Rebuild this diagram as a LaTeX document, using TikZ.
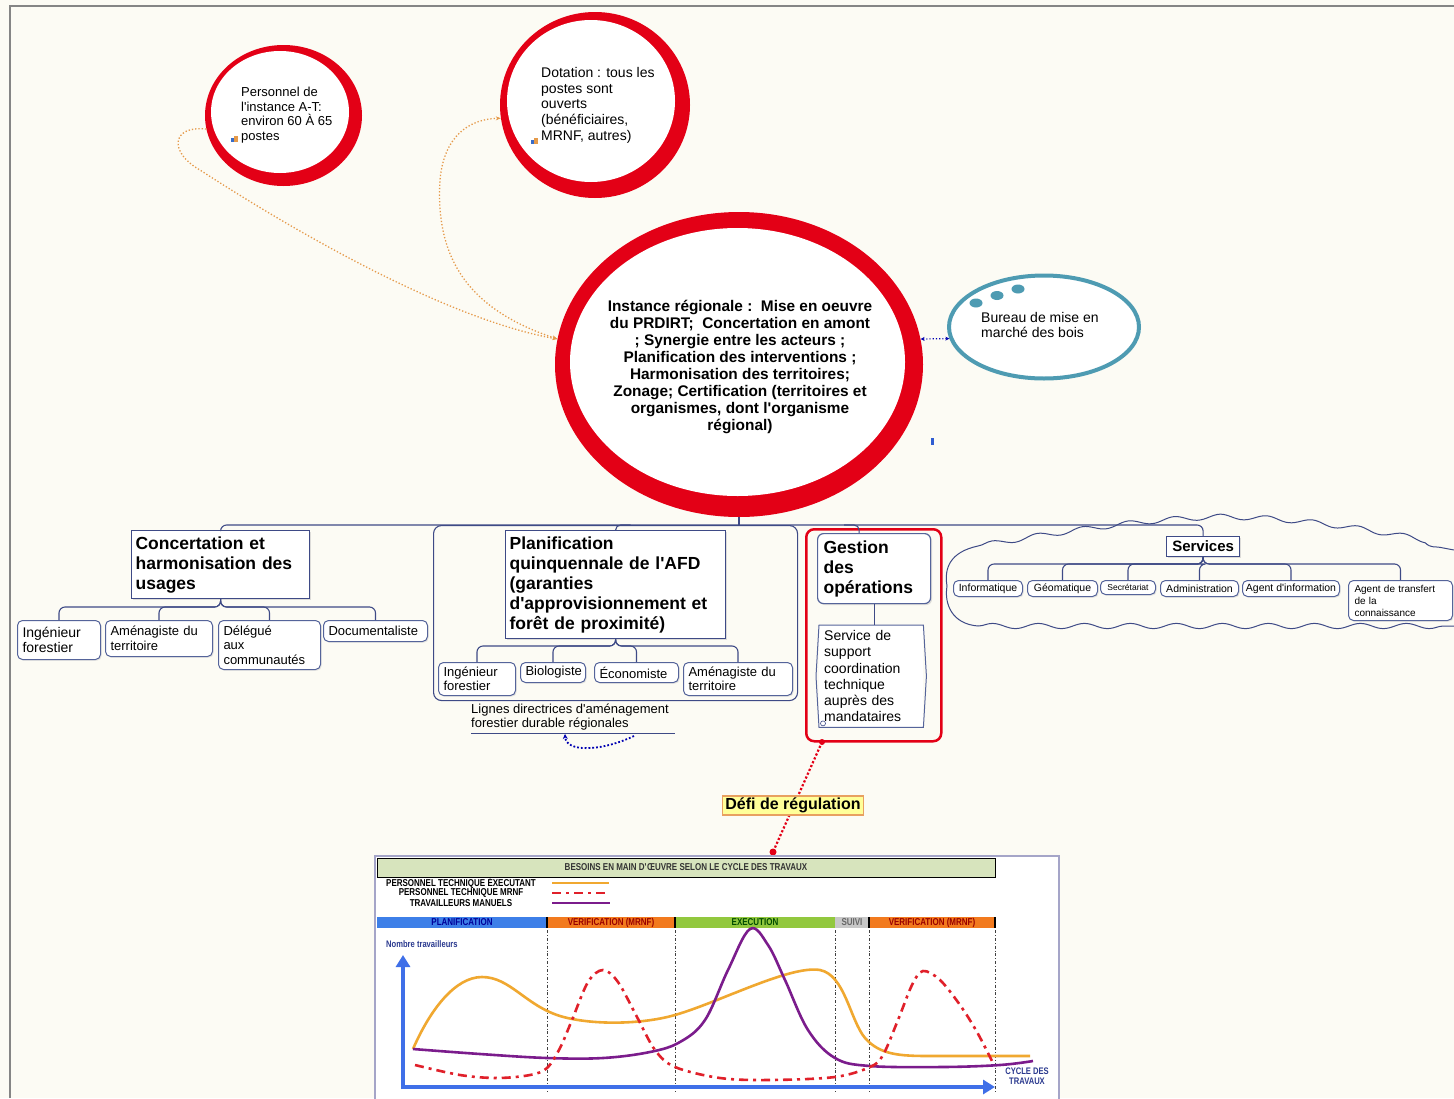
\documentclass[tikz,border=0pt]{standalone}
\usepackage{fontspec}
\setmainfont{Liberation Sans}
\newfontfamily\narrowfont[FakeStretch=0.8]{Liberation Sans}
\usetikzlibrary{shapes.geometric,arrows.meta,decorations.pathmorphing,shadows,calc}

\definecolor{cream}{HTML}{FCFBF4}
\definecolor{framegray}{HTML}{858585}
\definecolor{ringred}{HTML}{E30016}
\definecolor{navy}{HTML}{3E4A86}
\definecolor{boxblue}{HTML}{55649A}
\definecolor{teal}{HTML}{4E9BB2}
\definecolor{dotorange}{HTML}{E59A4A}
\definecolor{notebg}{HTML}{FFFF99}
\definecolor{noteline}{HTML}{E8A060}
\definecolor{chartframe}{HTML}{A5A5C8}
\definecolor{titlegreen}{HTML}{D7E4BD}
\definecolor{phblue}{HTML}{3D7FE8}
\definecolor{phorange}{HTML}{F27A1E}
\definecolor{phgreen}{HTML}{92C83E}
\definecolor{phgray}{HTML}{C8C8C8}
\definecolor{axisblue}{HTML}{3F6FE8}
\definecolor{curveorange}{HTML}{F0A830}
\definecolor{curvepurple}{HTML}{7B1C8C}
\definecolor{curvered}{HTML}{E0202A}
\definecolor{labelnavy}{HTML}{2B3A8F}

\newcommand{\chfont}{\narrowfont\bfseries\fontsize{10}{11}\selectfont}
\newcommand{\ap}{\textquotesingle}

\begin{document}
\begin{tikzpicture}[x=1pt,y=-1pt,
  ln/.style={draw=navy, line width=1.1pt},
  head/.style={draw=navy, line width=1.2pt, fill=white, align=left,
    inner xsep=4pt, inner ysep=2pt, anchor=north west,
    font=\bfseries\fontsize{17.5}{20}\selectfont,
    drop shadow={shadow xshift=1.5pt, shadow yshift=-1.5pt, fill=black!25}},
  kid/.style={draw=boxblue, line width=1pt, fill=white, rounded corners=5pt,
    align=left, inner xsep=5pt, inner ysep=2pt, anchor=north west,
    font=\fontsize{13}{14.5}\selectfont,
    drop shadow={shadow xshift=1.2pt, shadow yshift=-1.2pt, fill=black!20}},
  skid/.style={kid, font=\fontsize{10.5}{12}\selectfont, inner xsep=2pt, inner ysep=1pt},
  ring/.style={ellipse, fill=ringred, draw=none, inner sep=0pt},
  orangelink/.style={draw=dotorange, dotted, line width=1.3pt,
    arrows={-Stealth[length=5pt,width=4pt]}},
  legline/.style={line width=2.6pt},
  wavy/.style={draw=navy, line width=1pt, decorate,
    decoration={snake, segment length=46pt, amplitude=2.6pt}},
]
\useasboundingbox (0,0) rectangle (1454,1098);
\fill[cream] (0,0) rectangle (1454,1098);
\draw[framegray, line width=1.2pt] (10,1098) -- (10,6) -- (1454,6);

% ---------- top circles ----------
\node[ring, minimum width=157pt, minimum height=141pt] (pers) at (283.5,115.5) {};
\fill[white] (280,112) ellipse [x radius=69pt, y radius=61pt];
\node[align=left, anchor=north west, inner sep=0pt, font=\fontsize{13}{14.5}\selectfont]
  (persT) at (241,87) {Personnel de\\l\ap instance A-T:\\environ 60 À 65\\postes};
\fill[teal!70!blue] (231,138) rectangle (234,142);
\fill[dotorange] (234,136) rectangle (238,142);

\node[ring, minimum width=190pt, minimum height=186pt] (dot) at (595,105) {};
\fill[white] (591,101) ellipse [x radius=84pt, y radius=81pt];
\node[align=left, anchor=north west, inner sep=0pt, font=\fontsize{14}{15.7}\selectfont]
  (dotT) at (541,67) {Dotation : tous les\\postes sont\\ouverts\\(bénéficiaires,\\MRNF, autres)};
\fill[teal!70!blue] (531,140) rectangle (534,144);
\fill[dotorange] (534,138) rectangle (538,144);

% ---------- central instance ----------
\node[ring, minimum width=368pt, minimum height=305pt] (inst) at (739,364.5) {};
\fill[white] (737.5,362) ellipse [x radius=167.5pt, y radius=134pt];
\node[align=center, inner sep=0pt, font=\bfseries\fontsize{15.4}{17.1}\selectfont]
  (instT) at (740,367) {Instance régionale :\ \ Mise en oeuvre\\du PRDIRT;\ \ Concertation en amont\\; Synergie entre les acteurs ;\\Planification des interventions ;\\Harmonisation des territoires;\\Zonage; Certification (territoires et\\organismes, dont l\ap organisme\\régional)};

% ---------- market office bubble ----------
\node[ellipse, draw=teal, line width=4pt, fill=white, minimum width=190pt, minimum height=103pt, inner sep=0pt] (bur) at (1044,327) {};
\fill[teal] (976,303) ellipse [x radius=6.5pt, y radius=4.5pt];
\fill[teal] (997,295.5) ellipse [x radius=6.5pt, y radius=4.5pt];
\fill[teal] (1018,289) ellipse [x radius=6.5pt, y radius=4.5pt];
\node[align=left, anchor=north west, inner sep=0pt, font=\fontsize{14}{15.5}\selectfont]
  (burT) at (981,312) {Bureau de mise en\\marché des bois};
\draw[blue!70!black, dotted, line width=1.2pt, arrows={Stealth[length=4pt,width=4pt]-Stealth[length=4pt,width=4pt]}]
  (inst.8) -- (bur.187);
\fill[teal!60!blue] (931,438) rectangle (933.5,445);

% ---------- dotted links to the top circles ----------
\draw[orangelink] (pers.190) .. controls (172,125) and (168,152) .. (200,170)
  .. controls (300,235) and (450,320) .. (inst.172);
\draw[orangelink, arrows={Stealth[length=5pt,width=4pt]-Stealth[length=5pt,width=4pt]}]
  (inst.172) .. controls (470,310) and (435,260) .. (440,180)
  .. controls (444,135) and (470,119) .. (dot.188);

% ---------- services cloud ----------
\coordinate (cl1) at (978,546);
\coordinate (cl2) at (978,626);
\draw[wavy] (cl2) -- (1454,626);
\draw[wavy] (cl1) .. controls (1030,537) and (1120,522) .. (1200,519)
  .. controls (1300,518) and (1400,540) .. (1454,550);
\draw[navy, line width=1pt] (cl1) .. controls (950,552) and (944,568) .. (947,586)
  .. controls (944,604) and (952,624) .. (cl2);

% ---------- containers ----------
\node[draw=navy, line width=1.1pt, rounded corners=8pt, minimum width=364pt, minimum height=175pt, anchor=north west, inner sep=0pt] (pcont) at (433,525) {};
\node[draw=ringred, line width=2.5pt, rounded corners=8pt, minimum width=135pt, minimum height=212pt, anchor=north west, inner sep=0pt] (gcont) at (805,528) {};

% ---------- heads ----------
\node[head, text width=170pt, minimum height=68pt] (conc) at (131,530) {Concertation et\\harmonisation des\\usages};
\node[head, text width=212pt, minimum height=108pt] (planif) at (505,530) {Planification\\quinquennale de l\ap AFD\\(garanties\\d\ap approvisionnement et\\forêt de proximité)};
\node[head, draw=boxblue, rounded corners=6pt, inner xsep=6pt, text width=101pt, minimum height=70pt] (gest) at (817,533) {Gestion\\des\\opérations};
\node[head, align=center, inner xsep=3pt, inner ysep=1pt, text width=67pt, minimum height=20pt, font=\bfseries\fontsize{15}{17}\selectfont] (serv) at (1166,536) {Services};

% ---------- trunk ----------
\draw[ln] (inst.south) -- ++(0,8);
\draw[ln, rounded corners=6pt] (conc.north) -- ++(0,-5) -| (serv.north);
\draw[ln, rounded corners=5pt] (planif.north) |- ++(15,-5);
\draw[ln, rounded corners=5pt] ([xshift=-15pt]gest.north) |- ++(-15,-8);

% ---------- concertation team ----------
\node[kid, font=\fontsize{14}{15.5}\selectfont, text width=73pt, minimum height=39pt] (cc1) at (17,620) {Ingénieur\\forestier};
\node[kid, text width=97pt, minimum height=36pt] (cc2) at (105,620) {Aménagiste du\\territoire};
\node[kid, text width=92pt, minimum height=49pt] (cc3) at (218,620) {Délégué\\aux\\communautés};
\node[kid, text width=94pt, minimum height=21pt] (cc4) at (323,620) {Documentaliste};
\foreach \c in {cc1,cc2,cc3,cc4}
  \draw[ln, rounded corners=6pt] (conc.south) |- ([yshift=13pt]\c.north) -- (\c.north);

% ---------- planning team ----------
\node[kid, text width=67pt, minimum height=33pt] (pc1) at (438,662) {Ingénieur\\forestier};
\node[kid, text width=55pt, minimum height=20pt] (pc2) at (520,662) {Biologiste};
\node[kid, text width=74pt, minimum height=20pt] (pc3) at (594,662) {Économiste};
\node[kid, text width=99pt, minimum height=33pt] (pc4) at (683,662) {Aménagiste du\\territoire};
\foreach \c in {pc1,pc2,pc3,pc4}
  \draw[ln, rounded corners=6pt] (planif.south) |- ([yshift=16pt]\c.north) -- (\c.north);

\node[align=left, anchor=north west, inner sep=0pt, font=\fontsize{13}{14}\selectfont]
  (lign) at (471,704) {Lignes directrices d\ap aménagement\\forestier durable régionales};
\coordinate (lul) at (471,733);
\coordinate (lur) at (675,733);
\draw[navy, line width=1pt] (lul) -- (lur);
\coordinate (lsrc) at (634,736);
\coordinate (ltgt) at (565,734);
\draw[blue!70!black, dotted, line width=1.8pt, arrows={-Stealth[length=5pt,width=5pt]}]
  (lsrc) .. controls (600,752) and (566,752) .. (ltgt);

% ---------- operations ----------
\node[align=left, anchor=north west, fill=white, text width=94pt, inner xsep=5pt, inner ysep=2pt,
  minimum height=102pt, font=\fontsize{14}{16.3}\selectfont] (svc) at (819,625)
  {Service de\\support\\coordination\\technique\\auprès des\\mandataires};
\draw[boxblue, line width=1pt] (svc.north west) -- (svc.north east) -- ([xshift=3pt]svc.east)
  -- (svc.south east) -- (svc.south west) -- ([xshift=-3pt]svc.west) -- cycle;
\draw[ln] (gest.south) -- (gest.south |- svc.north);
\draw[navy, line width=0.6pt, fill=white] ([shift={(4,-4)}]svc.south west) circle (2.5pt);

% ---------- services team ----------
\node[skid, minimum width=69pt, minimum height=16pt] (sc1) at (953,580) {Informatique};
\node[skid, minimum width=70pt, minimum height=16pt] (sc2) at (1027,580) {Géomatique};
\node[skid, font=\fontsize{8.5}{10}\selectfont, minimum width=55pt, minimum height=14pt] (sc3) at (1100,580) {Secrétariat};
\node[skid, minimum width=78pt, minimum height=16pt] (sc4) at (1160,580) {Administration};
\node[skid, minimum width=97pt, minimum height=16pt] (sc5) at (1242,580) {Agent d\ap information};
\node[skid, font=\fontsize{10}{12}\selectfont, inner xsep=6pt, text width=92pt, minimum height=40pt] (sc6) at (1348,580) {Agent de transfert\\de la\\connaissance};
\foreach \c in {sc1,sc2,sc3,sc4,sc5,sc6}
  \draw[ln, rounded corners=6pt] (serv.south) |- ([yshift=16pt]\c.north) -- (\c.north);

% ---------- regulation challenge ----------
\coordinate (gdot) at (822,742);
\coordinate (cdot) at (773,852);
\draw[ringred, dotted, line width=2.2pt] (gdot) -- (cdot);
\fill[ringred] (gdot) circle (3pt);
\fill[ringred] (cdot) circle (3.5pt);
\node[draw=noteline, line width=1.2pt, fill=notebg, inner xsep=3pt, inner ysep=2pt,
  font=\bfseries\fontsize{16}{18}\selectfont] (defi) at (793,805.5) {Défi de régulation};

% ---------- workforce chart ----------
\node[draw=chartframe, line width=1.5pt, fill=white, anchor=north west, inner sep=0pt,
  minimum width=684pt, minimum height=245pt] (chart) at (374,855) {};
\node[draw=black, line width=1pt, fill=titlegreen, anchor=north west, inner sep=0pt,
  minimum width=618pt, minimum height=19pt] (ctitle) at (377,858) {};
\node[font=\chfont, text=black!80, inner sep=0pt] (ctitleT) at (686,867.5) {BESOINS EN MAIN D\ap ŒUVRE SELON LE CYCLE DES TRAVAUX};

\node[font=\chfont, inner sep=0pt] (lg1) at (461,883) {PERSONNEL TECHNIQUE ÉXECUTANT};
\node[font=\chfont, inner sep=0pt] (lg2) at (461,893) {PERSONNEL TECHNIQUE MRNF};
\node[font=\chfont, inner sep=0pt] (lg3) at (461,903) {TRAVAILLEURS MANUELS};
\draw[legline, curveorange] (552,883) -- (609,883);
\draw[legline, curvered, dash pattern=on 9pt off 5pt on 3pt off 5pt] (552,893) -- (609,893);
\draw[legline, curvepurple] (552,903) -- (610,903);

% phase bar
\fill[phblue] (377,917) rectangle (547,928);
\fill[phorange] (547,917) rectangle (675,928);
\fill[phgreen] (675,917) rectangle (835,928);
\fill[phgray] (835,917) rectangle (869,928);
\fill[phorange] (869,917) rectangle (995,928);
\foreach \xx in {547,675,869,995} \fill[black] (\xx-1,917) rectangle (\xx+1,928);
\node[font=\chfont, text=blue!60!black, inner sep=0pt] (ph1) at (462,922.5) {PLANIFICATION};
\node[font=\chfont, text=red!60!black, inner sep=0pt] (ph2) at (611,922.5) {VERIFICATION (MRNF)};
\node[font=\chfont, text=green!30!black, inner sep=0pt] (ph3) at (755,922.5) {EXECUTION};
\node[font=\chfont, text=black!60, inner sep=0pt] (ph4) at (852,922.5) {SUIVI};
\node[font=\chfont, text=red!60!black, inner sep=0pt] (ph5) at (932,922.5) {VERIFICATION (MRNF)};

\foreach \xx in {547,675,835,869,995}
  \draw[black!75, line width=0.6pt, dash pattern=on 3pt off 2pt on 0.8pt off 2pt] (\xx,930) -- (\xx,1092);

% axes
\draw[axisblue, line width=4pt, arrows={-Triangle[length=12pt,width=14pt]}] (403,1089) -- (403,955);
\draw[axisblue, line width=4pt, arrows={-Triangle[length=12pt,width=14pt]}] (401,1087) -- (995,1087);
\node[font=\narrowfont\bfseries\fontsize{9.5}{10}\selectfont, text=labelnavy, anchor=west, inner sep=0pt] (ylab) at (386,944) {Nombre travailleurs};
\node[font=\narrowfont\bfseries\fontsize{9.5}{10.5}\selectfont, text=labelnavy, align=center, inner sep=0pt] (xlab) at (1027,1076) {CYCLE DES\\TRAVAUX};

% curves
\draw[curveorange, line width=2.6pt] (413,1049)
  .. controls (430,1010) and (455,977) .. (482,977)
  .. controls (510,977) and (525,1005) .. (560,1016)
  .. controls (590,1025) and (640,1025) .. (675,1015)
  .. controls (720,1002) and (790,965) .. (820,970)
  .. controls (845,975) and (850,1020) .. (865,1038)
  .. controls (880,1055) and (900,1056) .. (930,1056) -- (1030,1056);
\draw[curvepurple, line width=2.6pt] plot[smooth, tension=0.6] coordinates {
  (413,1049) (480,1054) (547,1058) (603,1058) (650,1052) (680,1042) (705,1020)
  (728,970) (750,929) (768,945) (785,980) (808,1030) (835,1058) (870,1066)
  (943,1067) (1000,1065) (1033,1061)};
\draw[curvered, line width=2.6pt, dash pattern=on 9pt off 5pt on 3pt off 5pt] plot[smooth, tension=0.55] coordinates {
  (415,1065) (460,1075) (497,1078) (530,1075) (547,1068) (560,1048) (572,1020)
  (588,982) (603,970) (618,982) (637,1017) (655,1050) (675,1067) (720,1078)
  (770,1080) (835,1077) (870,1067) (883,1055) (898,1020) (912,985) (923,971)
  (940,980) (960,1005) (977,1032) (993,1063)};
\end{tikzpicture}
\end{document}
